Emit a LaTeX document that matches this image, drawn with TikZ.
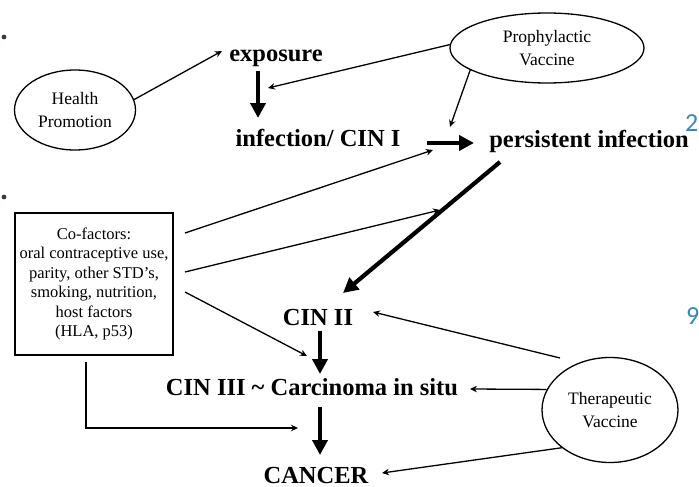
\documentclass[tikz,border=0pt]{standalone}
\usepackage{fontspec}
\setmainfont{Liberation Serif}
\newfontfamily\slidefont{Carlito}
\usetikzlibrary{shapes.geometric,arrows.meta,calc}
\definecolor{slideblue}{RGB}{55,135,185}
\definecolor{bulletgray}{RGB}{50,60,80}
\begin{document}
\begin{tikzpicture}[x=1pt,y=-1pt,
  big/.style={font=\fontsize{24.5}{28}\selectfont\bfseries, inner sep=1pt, anchor=base},
  small/.style={font=\fontsize{17.5}{23}\selectfont, align=center},
  oval/.style={ellipse, draw, line width=1.3pt, small, inner sep=0pt},
  tarrow/.style={line width=1.3pt, -{Stealth[length=7pt,width=6.5pt]}},
  barrow/.style={line width=4.2pt, -{Triangle[length=15pt,width=15pt]}},
  slidemark/.style={font=\slidefont\fontsize{26}{26}\selectfont, text=slideblue, inner sep=0pt, anchor=base west}
]
\useasboundingbox (0,0) rectangle (699,487);
\fill[white] (0,0) rectangle (699,487);

% slide artifacts
\fill[bulletgray] (4,37) circle (2.4pt);
\fill[bulletgray] (4,197) circle (2.4pt);
\node[slidemark] (m2) at (685,131) {2};
\node[slidemark] (m9) at (686,324) {9};

% ovals and box
\node[oval, minimum width=121pt, minimum height=80pt] (hp) at (75,110) {Health\\Promotion};
\node[oval, minimum width=194pt, minimum height=70pt] (pv) at (547,48) {Prophylactic\\Vaccine};
\node[oval, minimum width=136pt, minimum height=105pt] (tv) at (610,410) {Therapeutic\\Vaccine};
\node[draw, line width=1.3pt, align=center, inner sep=0pt, minimum width=158pt, minimum height=142pt,
      font=\fontsize{16.5}{19.5}\selectfont] (cof) at (94,284)
      {Co-factors:\\oral contraceptive use,\\parity, other STD’s,\\smoking, nutrition,\\host factors\\(HLA, p53)};

% main stages
\node[big] (exp) at (276,62) {exposure};
\node[big] (inf) at (318,146) {infection/ CIN I};
\node[big] (per) at (589,147) {persistent infection};
\node[big] (cin2) at (318,325) {CIN II};
\node[big] (cin3) at (312,395) {CIN III \textasciitilde\ Carcinoma in situ};
\node[big] (can) at (316,483) {CANCER};

% connector end points
\coordinate (eT) at (222,51);
\coordinate (eM) at (268,88);
\coordinate (iP) at (450,127);
\coordinate (a0s) at (258,71);  \coordinate (a0e) at (258,118);
\coordinate (a1s) at (427,143); \coordinate (a1e) at (474,143);
\coordinate (a2s) at (500,162); \coordinate (a2e) at (343,293);
\coordinate (a3s) at (320,331); \coordinate (a3e) at (320,374);
\coordinate (a4s) at (320,407); \coordinate (a4e) at (320,455);
\coordinate (c1s) at (185,233); \coordinate (c1e) at (433,150);
\coordinate (c2s) at (185,272); \coordinate (c2e) at (440,210);
\coordinate (c3s) at (185,292); \coordinate (c3e) at (307,356);
\coordinate (c4s) at (86,362);  \coordinate (c4e) at (298,428);
\coordinate (t1s) at (560,358); \coordinate (t1e) at (373,312);
\coordinate (t2e) at (470,389);
\coordinate (t3e) at (382,473);

% thick progression arrows
\draw[barrow] (a0s) -- (a0e);
\draw[barrow] (a1s) -- (a1e);
\draw[barrow] (a2s) -- (a2e);
\draw[barrow] (a3s) -- (a3e);
\draw[barrow] (a4s) -- (a4e);

% thin arrows
\draw[tarrow] (hp.10) -- (eT);
\draw[tarrow] (pv.178) -- (eM);
\draw[tarrow] (pv.196) -- (iP);
\draw[tarrow] (c1s) -- (c1e);
\draw[tarrow] (c2s) -- (c2e);
\draw[tarrow] (c3s) -- (c3e);
\draw[tarrow] (c4s) |- (c4e);
\draw[tarrow] (t1s) -- (t1e);
\draw[tarrow] (tv.162) -- (t2e);
\draw[tarrow] (tv.218) -- (t3e);
\end{tikzpicture}
\end{document}
